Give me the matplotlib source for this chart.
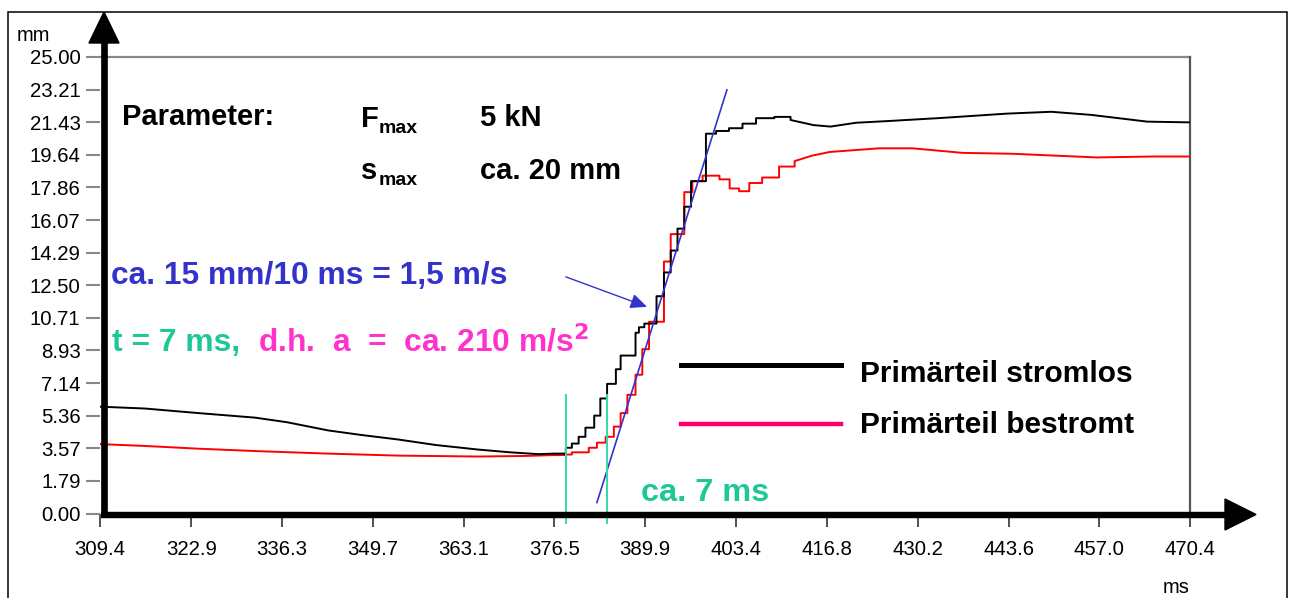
import matplotlib
matplotlib.use("Agg")
import matplotlib.pyplot as plt
from matplotlib.lines import Line2D
from matplotlib.patches import Polygon, Rectangle

plt.rcParams['font.family'] = ['Liberation Sans', 'DejaVu Sans']

# ---------------- data ----------------
x_ticks = [309.4, 322.9, 336.3, 349.7, 363.1, 376.5, 389.9, 403.4, 416.8, 430.2, 443.6, 457.0, 470.4]
y_ticks = [0.00, 1.79, 3.57, 5.36, 7.14, 8.93, 10.71, 12.50, 14.29, 16.07, 17.86, 19.64, 21.43, 23.21, 25.00]

stromlos_x = [309.4, 316.0, 323.9, 332.3, 337.0, 343.1, 348.0, 353.5, 359.0, 365.3, 370.0, 374.2, 376.5,
              378.2, 379.1, 380.1, 381.1, 382.4, 383.3, 384.3, 385.6, 386.3, 388.5, 389.0, 389.8,
              391.6, 392.7, 393.7, 394.7, 395.7, 396.7, 398.9, 400.4, 402.3, 404.3, 406.3, 409.0,
              411.4, 414.8, 417.3, 421.1, 426.2, 433.6, 443.4, 449.9, 455.8, 464.1, 470.4]
stromlos_y = [5.85, 5.75, 5.50, 5.25, 5.00, 4.55, 4.30, 4.05, 3.75, 3.50, 3.35, 3.25, 3.28,
              3.60, 3.83, 4.20, 4.70, 5.36, 6.30, 7.10, 7.90, 8.65, 9.90, 10.20, 10.40,
              11.90, 13.20, 14.40, 15.60, 16.80, 18.20, 20.80, 20.95, 21.10, 21.35, 21.65, 21.72,
              21.55, 21.27, 21.19, 21.40, 21.50, 21.66, 21.90, 22.00, 21.83, 21.46, 21.42]

bestromt_x = [309.4, 316.0, 323.9, 332.3, 343.1, 353.5, 365.3, 372.0, 376.5, 378.2, 379.1, 381.6,
              382.8, 384.1, 385.3, 386.3, 387.3, 388.5, 389.5, 390.5, 392.7, 393.7, 395.7, 396.9,
              398.4, 400.9, 402.4, 403.8, 405.3, 407.2, 409.7, 412.0, 414.6, 417.2, 424.5, 429.4,
              436.8, 444.2, 456.6, 464.9, 470.4]
bestromt_y = [3.80, 3.70, 3.55, 3.42, 3.28, 3.17, 3.12, 3.15, 3.20, 3.23, 3.35, 3.60,
              3.88, 4.20, 4.76, 5.50, 6.50, 7.60, 9.00, 10.50, 13.80, 15.30, 17.60, 18.20,
              18.50, 18.30, 17.80, 17.65, 18.10, 18.40, 19.00, 19.30, 19.60, 19.80, 20.00, 20.00,
              19.75, 19.70, 19.50, 19.55, 19.55]

# x-range in which the recorder trace shows distinct steps
step_range = (376.5, 412.0)

tangent_x = [382.8, 402.0]
tangent_y = [0.6, 23.2]
arrow_from = (378.2, 12.96)
arrow_to = (390.2, 11.32)
marker_x = [378.3, 384.3]
marker_y = [6.5, -0.5]

labels = ["Primärteil stromlos", "Primärteil bestromt"]


def partial_steps(xs, ys, lo, hi):
    """Insert step corners (steps-post) only inside [lo, hi]."""
    ox, oy = [xs[0]], [ys[0]]
    for i in range(1, len(xs)):
        if lo <= xs[i] <= hi and lo <= xs[i - 1]:
            ox.append(xs[i]); oy.append(ys[i - 1])
        ox.append(xs[i]); oy.append(ys[i])
    return ox, oy


# ---------------- figure ----------------
W, H = 1293, 598
fig = plt.figure(figsize=(W / 100, H / 100), dpi=100)
fx = lambda px: px / W
fy = lambda py: 1 - py / H

ax = fig.add_axes([fx(100), fy(513.5), 1090 / W, 456.5 / H])
ax.set_xlim(x_ticks[0], x_ticks[-1])
ax.set_ylim(y_ticks[0], y_ticks[-1])
for s in ax.spines.values():
    s.set_visible(False)

ax.set_xticks(x_ticks)
ax.set_xticklabels([f"{v:.1f}" for v in x_ticks], fontsize=14.7)
ax.set_yticks(y_ticks)
ax.set_yticklabels([f"{v:.2f}" for v in y_ticks], fontsize=14.7)
ax.tick_params(axis='x', direction='out', length=9.7, width=1.2, color='#333333', pad=9.5)
ax.tick_params(axis='y', direction='out', length=10, width=1.5, color='#888888', pad=4)

# frame lines of the plot area
ax.axhline(y_ticks[-1], color='#888888', lw=1.6, clip_on=False, zorder=1)
ax.axvline(x_ticks[-1], color='#555555', lw=1.6, clip_on=False, zorder=1)

# curves
bx, by = partial_steps(bestromt_x, bestromt_y, *step_range)
sx, sy = partial_steps(stromlos_x, stromlos_y, *step_range)
ax.plot(bx, by, color='#ff0000', lw=1.4, zorder=3)
ax.plot(sx, sy, color='#000000', lw=1.4, zorder=4)

# tangent
ax.plot(tangent_x, tangent_y, color='#3333cc', lw=1.2, zorder=5)
ax.annotate("", xy=arrow_to, xytext=arrow_from,
            arrowprops=dict(arrowstyle='-|>,head_length=1.0,head_width=0.45', color='#3333cc', lw=1.0,
                            shrinkA=0, shrinkB=0), zorder=6)

# time markers
for mx in marker_x:
    ax.plot([mx, mx], marker_y, color='#33d9aa', lw=1.4, clip_on=False, zorder=5)

# legend
ax.plot([0.533, 0.680], [0.325, 0.325], transform=ax.transAxes, color='black', lw=3.6)
ax.plot([0.533, 0.680], [0.196, 0.196], transform=ax.transAxes, color='#ff0066', lw=3.2)
fig.text(fx(860), fy(382), labels[0], fontsize=21.5, fontweight='bold', va='baseline')
fig.text(fx(860), fy(433), labels[1], fontsize=21.5, fontweight='bold', va='baseline')

# annotation texts
fig.text(fx(122), fy(125), "Parameter:", fontsize=21, fontweight='bold', va='baseline')
fig.text(fx(361), fy(127), "F", fontsize=21, fontweight='bold', va='baseline')
fig.text(fx(379), fy(133), "max", fontsize=14, fontweight='bold', va='baseline')
fig.text(fx(480), fy(126), "5 kN", fontsize=21, fontweight='bold', va='baseline')
fig.text(fx(361), fy(179), "s", fontsize=21, fontweight='bold', va='baseline')
fig.text(fx(379), fy(185), "max", fontsize=14, fontweight='bold', va='baseline')
fig.text(fx(480), fy(179), "ca. 20 mm", fontsize=21, fontweight='bold', va='baseline')

fig.text(fx(111), fy(284), "ca. 15 mm/10 ms = 1,5 m/s", fontsize=22.9, fontweight='bold',
         color='#3333cc', va='baseline')
fig.text(fx(112), fy(351), "t = 7 ms,", fontsize=22.9, fontweight='bold', color='#1ec896', va='baseline')
fig.text(fx(258), fy(351), "d.h.  a  =  ca. 210 m/s$^\\mathbf{2}$", fontsize=22.9, fontweight='bold',
         color='#ff33cc', va='baseline')
fig.text(fx(641), fy(501), "ca. 7 ms", fontsize=23.4, fontweight='bold', color='#1ec896', va='baseline')

fig.text(fx(17), fy(41), "mm", fontsize=14.5, va='baseline')
fig.text(fx(1163), fy(593), "ms", fontsize=14.5, va='baseline')

# thick axis arrows
fig.add_artist(Line2D([fx(104), fx(104)], [fy(517), fy(42)], transform=fig.transFigure,
                      color='black', lw=4.8, solid_capstyle='butt'))
fig.add_artist(Polygon([[fx(104), fy(12)], [fx(89), fy(43)], [fx(119), fy(43)]],
                       closed=True, transform=fig.transFigure, color='black'))
fig.add_artist(Line2D([fx(101), fx(1227)], [fy(514.5), fy(514.5)], transform=fig.transFigure,
                      color='black', lw=4.6, solid_capstyle='butt'))
fig.add_artist(Polygon([[fx(1256), fy(514.5)], [fx(1225), fy(499)], [fx(1225), fy(530)]],
                       closed=True, transform=fig.transFigure, color='black'))

# outer frame
fig.add_artist(Rectangle((fx(7.5), fy(640)), (1287 - 7.5) / W, (640 - 11.5) / H,
                         transform=fig.transFigure, fill=False, edgecolor='black', lw=1.1))

fig.savefig("out.png", dpi=100)
